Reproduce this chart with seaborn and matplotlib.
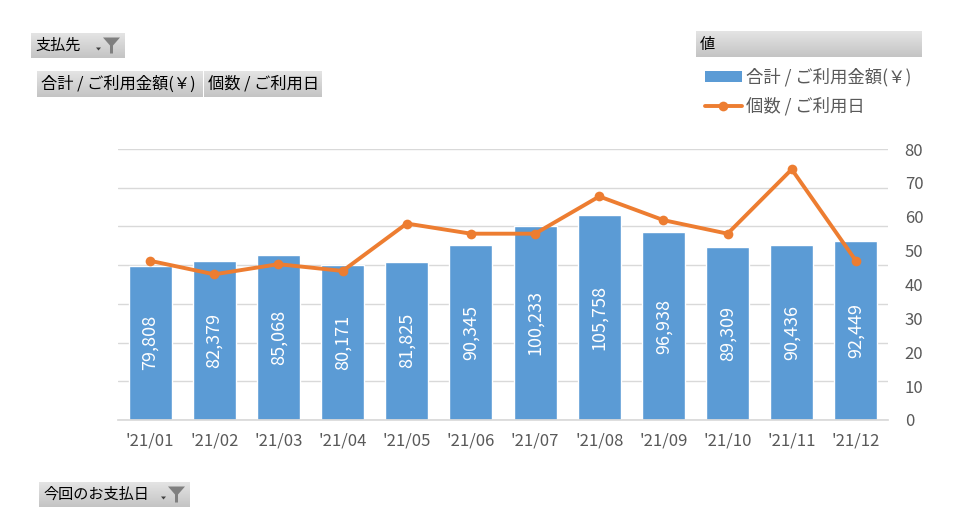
import numpy as np
import pandas as pd
import matplotlib
matplotlib.use("Agg")
import matplotlib.pyplot as plt
import seaborn as sns
from matplotlib.patches import Polygon, Patch
from matplotlib.lines import Line2D

# data
months = ["'21/01", "'21/02", "'21/03", "'21/04", "'21/05", "'21/06",
          "'21/07", "'21/08", "'21/09", "'21/10", "'21/11", "'21/12"]
amounts = [79808, 82379, 85068, 80171, 81825, 90345,
           100233, 105758, 96938, 89309, 90436, 92449]
counts = [47, 43, 46, 44, 58, 55, 55, 66, 59, 55, 74, 47]

bar_name = "合計 / ご利用金額(￥)"
line_name = "個数 / ご利用日"

df = pd.DataFrame({"month": months, "amount": amounts, "count": counts})

sns.set_theme(style="white")
plt.rcParams['font.family'] = ['Noto Sans CJK JP', 'DejaVu Sans']

W, H = 954, 531
BLUE = "#5B9BD5"
ORANGE = "#ED7D31"
GREY_TXT = "#595959"

fig = plt.figure(figsize=(W / 100, H / 100), dpi=100)
fig.patch.set_facecolor("white")

def px(x, y):
    return x / W, (H - y) / H

# main plot area
left, top = px(118, 149)
right, bottom = px(888, 420)
ax = fig.add_axes([left, bottom, right - left, top - bottom])

sns.barplot(data=df, x="month", y="amount", color=BLUE, saturation=1,
            width=0.67, ax=ax, zorder=2)
ax.set_ylim(0, 140000)
ax.set_yticks(np.arange(0, 140001, 20000))
ax.yaxis.grid(True, color="#D9D9D9", linewidth=1)
ax.set_axisbelow(True)
ax.set_xlabel("")
ax.set_ylabel("")
for s in ["left", "right", "top"]:
    ax.spines[s].set_visible(False)
ax.spines["bottom"].set_color("#D9D9D9")
ax.set_xlim(-0.5, len(months) - 0.5)

for cont in ax.containers:
    ax.bar_label(cont, labels=[f"{v:,}" for v in amounts], label_type="center",
                 rotation=90, color="white", fontsize=13)

ax2 = ax.twinx()
sns.lineplot(data=df, x="month", y="count", color=ORANGE, linewidth=2.8,
             marker="o", markersize=7, markeredgewidth=0, sort=False, ax=ax2)
ax2.set_ylim(0, 80)
ax2.set_yticks(np.arange(0, 81, 10))
ax2.tick_params(axis="y", left=False, right=False, length=0,
                labelsize=12, labelcolor=GREY_TXT, pad=12)
ax2.set_ylabel("")
ax2.set_xlabel("")
for s in ["left", "right", "top", "bottom"]:
    ax2.spines[s].set_visible(False)
ax2.set_xlim(-0.5, len(months) - 0.5)

# twinx turns the left ticks back on, so hide them afterwards
ax.tick_params(axis="y", left=False, right=False, labelleft=False, length=0)
ax.tick_params(axis="x", bottom=False, length=0, labelsize=12,
               labelcolor=GREY_TXT, pad=9)

# pivot-chart field buttons
grad = np.linspace(0, 1, 50).reshape(-1, 1)
gcmap = matplotlib.colors.LinearSegmentedColormap.from_list(
    "g", ["#E4E4E4", "#C4C4C4"])

def button(x0, y0, x1, y1, text, funnel=False, fs=11.7):
    l, t = px(x0, y0)
    r, b = px(x1, y1)
    bax = fig.add_axes([l, b, r - l, t - b])
    bax.imshow(grad, aspect="auto", cmap=gcmap, extent=[0, 1, 0, 1])
    bax.set_xlim(0, 1)
    bax.set_ylim(0, 1)
    bax.axis("off")
    fig.text(*px(x0 + 4, (y0 + y1) / 2), text, fontsize=fs, color="black",
             va="center", ha="left")
    if funnel:
        fx = x1 - 22
        cy = (y0 + y1) / 2
        fig.patches.append(Polygon([px(fx, cy - 8), px(fx + 17, cy - 8),
                                    px(fx + 10, cy), px(fx + 10, cy + 8),
                                    px(fx + 7, cy + 8), px(fx + 7, cy)],
                                   closed=True, transform=fig.transFigure,
                                   facecolor="#7F7F7F", edgecolor="none"))
        fig.patches.append(Polygon([px(fx - 7, cy + 2), px(fx - 2, cy + 2),
                                    px(fx - 4.5, cy + 5)], closed=True,
                                   transform=fig.transFigure,
                                   facecolor="#404040", edgecolor="none"))

button(31, 33, 125, 58, "支払先", funnel=True, fs=10.9)
button(37, 71, 203, 97, bar_name)
button(204, 71, 322, 97, line_name)
button(696, 31, 922, 57, "値", fs=11)
button(39, 482, 190, 507, "今回のお支払日", funnel=True, fs=10.9)

# legend
handles = [Patch(facecolor=BLUE, edgecolor="none"),
           Line2D([], [], color=ORANGE, linewidth=2.8, marker="o",
                  markersize=7, markeredgewidth=0)]
fig.legend(handles, [bar_name, line_name], loc="upper left",
           bbox_to_anchor=px(693, 56), frameon=False, fontsize=12.5,
           labelcolor=GREY_TXT, handlelength=2.1, handleheight=0.6,
           handletextpad=0.25, labelspacing=0.6, borderpad=0.2)

fig.savefig("out.png", dpi=100)
